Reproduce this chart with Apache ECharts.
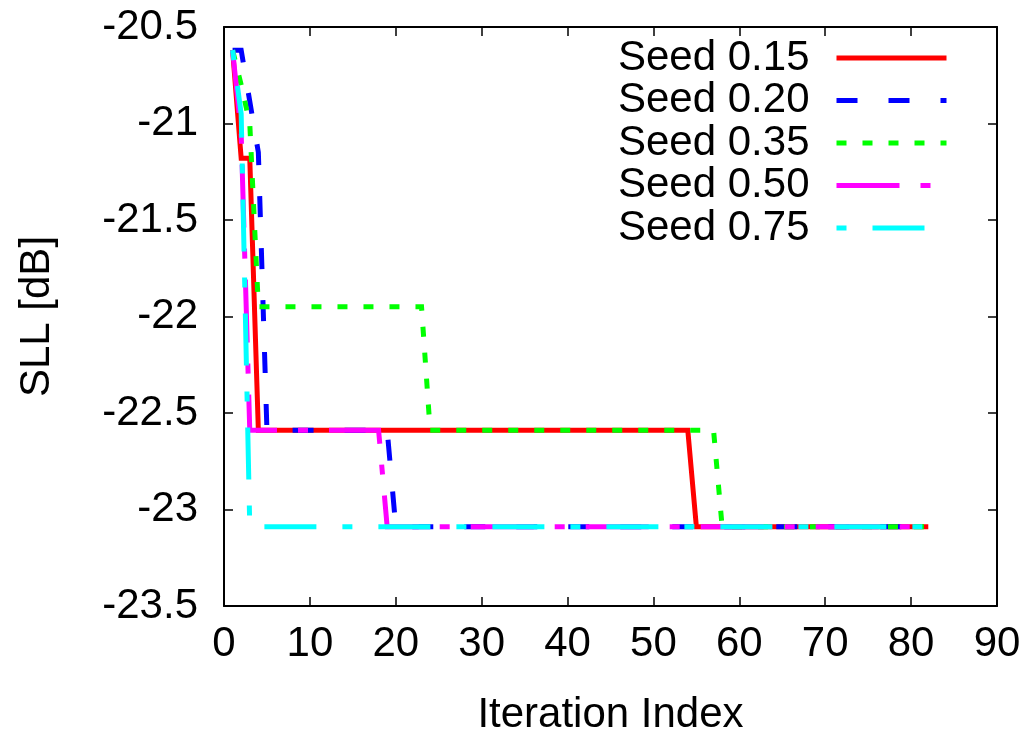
<!DOCTYPE html>
<html>
<head>
<meta charset="utf-8">
<script src="https://cdn.jsdelivr.net/npm/echarts@6/dist/echarts.min.js"></script>
<style>
html,body{margin:0;padding:0;background:#fff;}
#chart{width:1032px;height:733px;}
</style>
</head>
<body>
<div id="chart"></div>
<script>
// Series data: [iteration, SLL dB]
const seed015 = [[1,-20.62],[2,-21.18],[3,-21.18],[4,-22.59],[54,-22.59],[55,-23.09],[82,-23.09]];
const seed020 = [[1,-20.62],[2,-20.62],[4,-21.15],[5,-22.59],[19,-22.59],[20,-23.09],[82,-23.09]];
const seed035 = [[1,-20.62],[2,-20.8],[3,-21.0],[4,-21.95],[23,-21.95],[24,-22.59],[57,-22.59],[58,-23.09],[82,-23.09]];
const seed050 = [[1,-20.62],[2,-21.05],[3,-22.59],[18,-22.59],[19,-23.09],[82,-23.09]];
const seed075 = [[1,-20.62],[2,-20.95],[3,-23.09],[82,-23.09]];
const seriesNames = ['Seed 0.15','Seed 0.20','Seed 0.35','Seed 0.50','Seed 0.75'];
const xTicks = {min:0, max:90, interval:10};
const yTicks = {min:-23.5, max:-20.5, interval:0.5};

const FONT = 'Liberation Sans, Arial, sans-serif';
const FS = 42;
const LW = 5;
const chart = echarts.init(document.getElementById('chart'), null, {renderer:'canvas'});

const styles = [
  {color:'#ff0000', type:'solid'},
  {color:'#0000ff', type:[21,31]},
  {color:'#00ff00', type:[10,16]},
  {color:'#ff00ff', type:[63,21,10,21]},
  {color:'#00ffff', type:[10,26,52,26]}
];
const datas = [seed015, seed020, seed035, seed050, seed075];

const series = datas.map((d,i)=>({
  name: seriesNames[i],
  type:'line',
  data:d,
  symbol:'none',
  showSymbol:false,
  animation:false,
  lineStyle:{color:styles[i].color, width:LW, type:styles[i].type, cap:'butt', join:'miter'},
  itemStyle:{color:styles[i].color}
}));

const axisLineStyle = {color:'#000', width:2};
chart.setOption({
  backgroundColor:'#fff',
  animation:false,
  grid:{left:224, right:35, top:27, bottom:127, containLabel:false, outerBoundsMode:'none'},
  legend:{
    orient:'vertical',
    right:78, top:32,
    align:'right',
    itemWidth:110, itemHeight:14,
    itemGap:0.5,
    itemStyle:{opacity:0},
    lineStyle:{width:LW},
    textStyle:{fontFamily:FONT, fontSize:FS, color:'#000', lineHeight:40, height:40, padding:[0,22,0,0]},
    data:seriesNames
  },
  xAxis:[{
    type:'value', min:xTicks.min, max:xTicks.max, interval:xTicks.interval,
    name:'Iteration Index', nameLocation:'middle', nameGap:88,
    nameTextStyle:{fontFamily:FONT, fontSize:FS, color:'#000'},
    axisLine:{show:true, onZero:false, lineStyle:axisLineStyle},
    axisTick:{show:true, inside:true, length:9, lineStyle:{color:'#000', width:1.5}},
    axisLabel:{fontFamily:FONT, fontSize:FS, color:'#000', margin:17},
    splitLine:{show:false}
  },{
    type:'value', position:'top', min:xTicks.min, max:xTicks.max, interval:xTicks.interval,
    axisLine:{show:true, onZero:false, lineStyle:axisLineStyle},
    axisTick:{show:true, inside:true, length:9, lineStyle:{color:'#000', width:1.5}},
    axisLabel:{show:false}, splitLine:{show:false}
  }],
  yAxis:[{
    type:'value', min:yTicks.min, max:yTicks.max, interval:yTicks.interval,
    name:'SLL [dB]', nameLocation:'middle', nameGap:166, nameRotate:90,
    nameTextStyle:{fontFamily:FONT, fontSize:FS, color:'#000'},
    axisLine:{show:true, onZero:false, lineStyle:axisLineStyle},
    axisTick:{show:true, inside:true, length:9, lineStyle:{color:'#000', width:1.5}},
    axisLabel:{fontFamily:FONT, fontSize:FS, color:'#000', margin:26},
    splitLine:{show:false}
  },{
    type:'value', position:'right', min:yTicks.min, max:yTicks.max, interval:yTicks.interval,
    axisLine:{show:true, onZero:false, lineStyle:axisLineStyle},
    axisTick:{show:true, inside:true, length:9, lineStyle:{color:'#000', width:1.5}},
    axisLabel:{show:false}, splitLine:{show:false}
  }],
  series:series
});
</script>
</body>
</html>
